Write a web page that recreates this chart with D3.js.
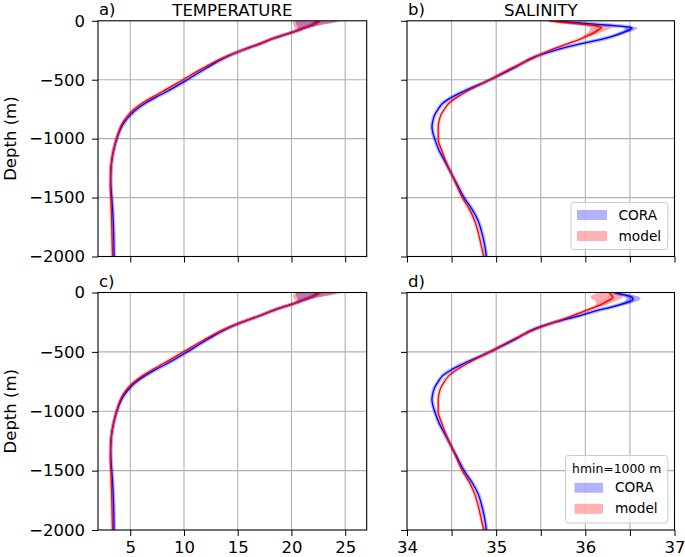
<!DOCTYPE html>
<html><head><meta charset="utf-8">
<script src="https://cdn.jsdelivr.net/npm/d3@7"></script>
<style>
body{margin:0;background:#fff}
svg{display:block}
text{font-family:"DejaVu Sans",sans-serif;fill:#000}
</style>
</head><body>
<svg id="chart" width="685" height="557"></svg>
<script>
// ---------------- DATA ----------------
const depths = [0,10,20,30,40,50,60,75,100,125,150,200,250,300,400,500,600,650,700,750,800,850,900,950,1000,1100,1200,1300,1400,1500,1600,1700,1800,1900,2000];
const bandDepths = [0,10,20,30,40,50,60,75,100,125,150,200];

// Temperature, CORA (same observations for a and c)
const tempCora   = [22.5,22.4,22.2,22.0,21.8,21.5,21.2,20.8,20.0,19.1,18.3,16.9,15.4,14.1,12.1,10.3,8.4,7.35,6.4,5.6,5.0,4.55,4.2,3.95,3.75,3.45,3.26,3.18,3.2,3.28,3.36,3.42,3.46,3.48,3.5];
const tempModelA = [22.6,22.5,22.3,22.0,21.8,21.5,21.2,20.8,20.0,19.15,18.35,16.95,15.4,14.0,11.8,9.9,8.0,7.0,6.1,5.35,4.8,4.4,4.1,3.9,3.72,3.45,3.26,3.18,3.15,3.2,3.24,3.27,3.3,3.32,3.35];
const tempModelC = [22.75,22.55,22.3,22.05,21.8,21.5,21.2,20.8,20.0,19.15,18.35,16.95,15.4,14.0,11.85,9.95,8.05,7.05,6.15,5.4,4.82,4.4,4.1,3.9,3.72,3.45,3.26,3.18,3.15,3.2,3.24,3.27,3.3,3.32,3.35];
const tempCoraLo   = [20.4,20.4,20.4,20.45,20.5,20.55,20.6,20.6,19.9,19.0,18.2,16.8];
const tempCoraHi   = [24.4,24.0,23.5,23.0,22.5,22.0,21.5,20.95,20.1,19.2,18.4,17.0];
const tempModelALo = [20.1,20.1,20.1,20.15,20.2,20.25,20.3,20.4,19.85,19.05,18.25,16.85];
const tempModelAHi = [24.7,24.3,23.8,23.2,22.6,22.1,21.55,21.0,20.1,19.25,18.45,17.05];
const tempModelCLo = [20.5,20.3,20.15,20.1,20.15,20.2,20.3,20.4,19.85,19.05,18.25,16.85];
const tempModelCHi = [24.8,24.4,23.9,23.3,22.7,22.1,21.55,21.0,20.1,19.25,18.45,17.05];

// Salinity
const salCoraB  = [35.70,35.80,35.97,36.14,36.30,36.45,36.52,36.50,36.42,36.33,36.22,35.92,35.66,35.45,35.20,34.93,34.63,34.50,34.40,34.35,34.31,34.29,34.28,34.29,34.31,34.36,34.43,34.50,34.57,34.64,34.73,34.80,34.84,34.87,34.89];
const salModelB = [35.60,35.72,35.85,35.99,36.10,36.16,36.18,36.15,36.10,36.03,35.96,35.78,35.60,35.46,35.18,34.93,34.67,34.56,34.47,34.42,34.38,34.36,34.35,34.35,34.35,34.39,34.44,34.50,34.56,34.62,34.70,34.76,34.80,34.83,34.86];
const salCoraD  = [36.32,36.38,36.44,36.49,36.52,36.53,36.53,36.50,36.40,36.28,36.14,35.91,35.66,35.45,35.20,34.93,34.63,34.50,34.40,34.35,34.31,34.29,34.28,34.29,34.31,34.36,34.43,34.50,34.57,34.64,34.73,34.80,34.84,34.87,34.89];
const salModelD = [36.27,36.28,36.29,36.30,36.31,36.30,36.28,36.24,36.18,36.10,36.01,35.84,35.65,35.47,35.18,34.93,34.67,34.56,34.47,34.42,34.38,34.36,34.35,34.35,34.35,34.39,34.44,34.50,34.56,34.62,34.70,34.76,34.80,34.83,34.86];
const salCoraBLo  = [35.67,35.76,35.92,36.08,36.23,36.38,36.45,36.44,36.38,36.30,36.20,35.905];
const salCoraBHi  = [35.73,35.84,36.02,36.20,36.37,36.52,36.59,36.56,36.46,36.36,36.24,35.935];
const salModelBLo = [35.52,35.62,35.73,35.86,35.97,36.03,36.06,36.05,36.03,35.98,35.93,35.765];
const salModelBHi = [35.68,35.82,35.97,36.12,36.23,36.29,36.30,36.25,36.17,36.08,35.99,35.795];
const salCoraDLo  = [36.29,36.33,36.38,36.42,36.45,36.46,36.46,36.44,36.36,36.25,36.12,35.90];
const salCoraDHi  = [36.36,36.44,36.52,36.58,36.61,36.62,36.61,36.57,36.45,36.31,36.16,35.925];
const salModelDLo = [36.17,36.12,36.08,36.06,36.06,36.07,36.09,36.12,36.12,36.07,35.99,35.83];
const salModelDHi = [36.40,36.41,36.42,36.42,36.42,36.40,36.37,36.32,36.24,36.13,36.03,35.85];

const depthTicks = [0,-500,-1000,-1500,-2000];
const tempTicks = [5,10,15,20,25];
const salTicks = [34,34.5,35,35.5,36,36.5,37];
const seriesNames = ["CORA","model"];
const legendTitleD = "hmin=1000 m";

// ---------------- DRAW ----------------
const svg = d3.select("#chart");
const FS = 16.5;
const BLUE = "#0000ff", RED = "#ff0000";

const colX = [[98,366.7],[407,674.5]];
const rowY = [[20.8,256.5],[292.5,530]];

const panels = [
  {id:"a", col:0,row:0, dom:[2,27], ticks:tempTicks, cora:tempCora, model:tempModelA,
   cLo:tempCoraLo,cHi:tempCoraHi,mLo:tempModelALo,mHi:tempModelAHi, title:"TEMPERATURE"},
  {id:"b", col:1,row:0, dom:[34,37], ticks:salTicks, cora:salCoraB, model:salModelB,
   cLo:salCoraBLo,cHi:salCoraBHi,mLo:salModelBLo,mHi:salModelBHi, title:"SALINITY", legend:true},
  {id:"c", col:0,row:1, dom:[2,27], ticks:tempTicks, cora:tempCora, model:tempModelC,
   cLo:tempCoraLo,cHi:tempCoraHi,mLo:tempModelCLo,mHi:tempModelCHi},
  {id:"d", col:1,row:1, dom:[34,37], ticks:salTicks, cora:salCoraD, model:salModelD,
   cLo:salCoraDLo,cHi:salCoraDHi,mLo:salModelDLo,mHi:salModelDHi, legend:true, legendTitle:legendTitleD}
];

panels.forEach(p => {
  const [x0,x1] = colX[p.col], [y0,y1] = rowY[p.row];
  const x = d3.scaleLinear().domain(p.dom).range([x0,x1]);
  const y = d3.scaleLinear().domain([-2000,0]).range([y1,y0]);
  const g = svg.append("g");
  const clipId = "clip-"+p.id;
  svg.append("clipPath").attr("id",clipId).append("rect")
    .attr("x",x0).attr("y",y0).attr("width",x1-x0).attr("height",y1-y0);

  // grid
  const grid = g.append("g").attr("stroke","#b0b0b0").attr("stroke-width",1.1);
  p.ticks.filter(t=>t>p.dom[0] && t<p.dom[1]).forEach(t=>{
    grid.append("line").attr("x1",x(t)).attr("x2",x(t)).attr("y1",y0).attr("y2",y1);
  });
  depthTicks.filter(t=>t>-2000 && t<0).forEach(t=>{
    grid.append("line").attr("x1",x0).attr("x2",x1).attr("y1",y(t)).attr("y2",y(t));
  });

  const data = g.append("g").attr("clip-path",`url(#${clipId})`);
  const band = (lo,hi) => d3.area().curve(d3.curveMonotoneY)
    .y((d,i)=>y(-bandDepths[i])).x0((d,i)=>x(lo[i])).x1((d,i)=>x(hi[i]));
  const line = vals => d3.line().curve(d3.curveMonotoneY)
    .y((d,i)=>y(-depths[i])).x((d,i)=>x(vals[i]));

  data.append("path").datum(bandDepths).attr("d",band(p.cLo,p.cHi))
    .attr("fill",BLUE).attr("fill-opacity",0.33);
  data.append("path").datum(bandDepths).attr("d",band(p.mLo,p.mHi))
    .attr("fill",RED).attr("fill-opacity",0.33);
  // thin std glow along the profiles
  data.append("path").datum(depths).attr("d",line(p.cora))
    .attr("fill","none").attr("stroke",BLUE).attr("stroke-opacity",0.28).attr("stroke-width",4);
  data.append("path").datum(depths).attr("d",line(p.model))
    .attr("fill","none").attr("stroke",RED).attr("stroke-opacity",0.22).attr("stroke-width",3.5);
  data.append("path").datum(depths).attr("d",line(p.cora))
    .attr("fill","none").attr("stroke",BLUE).attr("stroke-width",1.3);
  data.append("path").datum(depths).attr("d",line(p.model))
    .attr("fill","none").attr("stroke",RED).attr("stroke-width",1.3);

  // axes
  const showY = p.col===0, showX = p.row===1;
  const ay = d3.axisLeft(y).tickValues(depthTicks).tickSize(6).tickPadding(7)
    .tickFormat(showY ? d3.format("d") : ()=>"");
  const gy = g.append("g").attr("transform",`translate(${x0},0)`).call(ay);
  const ax = d3.axisBottom(x).tickValues(p.ticks).tickSize(6).tickPadding(5.5)
    .tickFormat(t => (showX && Number.isInteger(t)) ? String(t) : "");
  const gx = g.append("g").attr("transform",`translate(0,${y1})`).call(ax);
  [gx,gy].forEach(a=>{
    a.select(".domain").remove();
    a.selectAll(".tick line").attr("stroke","#000").attr("stroke-width",1);
    a.selectAll("text").attr("font-size",FS).attr("font-family","DejaVu Sans").attr("fill","#000");
  });

  // spines
  g.append("rect").attr("x",x0).attr("y",y0).attr("width",x1-x0).attr("height",y1-y0)
    .attr("fill","none").attr("stroke","#000").attr("stroke-width",1.1);

  // panel letter & title
  svg.append("text").attr("x",x0+1).attr("y",y0-5.5).attr("font-size",FS).text(p.id+")");
  if (p.title) svg.append("text").attr("x",(x0+x1)/2).attr("y",y0-4.8)
    .attr("text-anchor","middle").attr("font-size",FS).text(p.title);

  // legend
  if (p.legend) {
    const hasT = !!p.legendTitle;
    const lx0 = hasT ? 565.5 : 571, lx1 = 667.8;
    const ly1 = y1 - 7, ly0 = hasT ? ly1 - 67.5 : ly1 - 47;
    const lg = svg.append("g");
    lg.append("rect").attr("x",lx0).attr("y",ly0).attr("width",lx1-lx0).attr("height",ly1-ly0)
      .attr("rx",3).attr("fill","#fff").attr("fill-opacity",0.8).attr("stroke","#cccccc").attr("stroke-width",1);
    let yy = ly0 + 7.5;
    if (hasT) {
      lg.append("text").attr("x",(lx0+lx1)/2).attr("y",ly0+17.3).attr("text-anchor","middle")
        .attr("font-size",12.4).text(p.legendTitle);
      yy = ly0 + 27.3;
    }
    const cols = [BLUE,RED];
    seriesNames.forEach((n,i)=>{
      const py = yy + i*21;
      lg.append("rect").attr("x",lx0+(hasT?9:6)).attr("y",py).attr("width",hasT?28.5:30).attr("height",10)
        .attr("fill",cols[i]).attr("fill-opacity",0.3);
      lg.append("text").attr("x",lx0+(hasT?49.5:47.5)).attr("y",py+9.5).attr("font-size",13.7).text(n);
    });
  }
});

// y-axis labels
[0,1].forEach(r=>{
  const cy = (rowY[r][0]+rowY[r][1])/2;
  svg.append("text").attr("transform",`translate(16,${cy}) rotate(-90)`)
    .attr("text-anchor","middle").attr("font-size",FS).text("Depth (m)");
});
</script>
</body></html>
